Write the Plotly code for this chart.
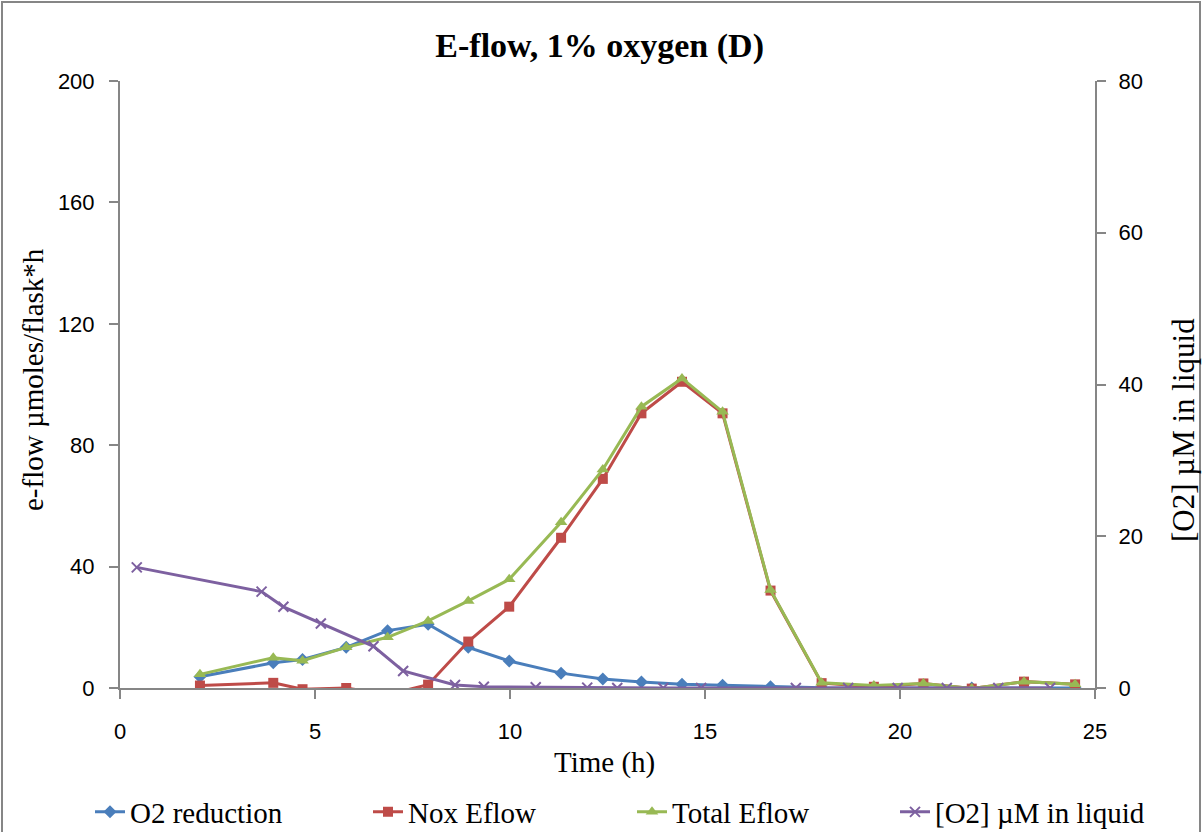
import plotly.graph_objects as go

# Time points (h)
t_main = [2.05, 3.93, 4.68, 5.8, 6.86, 7.9, 8.93, 9.98, 11.31, 12.38, 13.37, 14.41,
          15.45, 16.68, 17.99, 19.33, 20.6, 21.84, 23.18, 24.49]
o2_reduction = [3.7, 8.3, 9.4, 13.4, 18.9, 21.0, 13.4, 8.9, 4.9, 3.0, 2.0, 1.2,
                0.9, 0.4, 0.05, 0.0, 0.0, 0.0, 0.0, 0.0]
nox_eflow = [0.8, 1.7, -0.4, 0.0, -2.2, 1.1, 15.3, 26.8, 49.5, 68.9, 90.5, 100.9,
             90.5, 32.1, 1.6, 0.4, 1.5, -0.2, 2.1, 1.2]
total_eflow = [4.5, 10.0, 9.0, 13.4, 16.7, 22.1, 28.7, 35.8, 54.6, 72.0, 92.7, 102.0,
               91.0, 32.3, 1.7, 0.8, 1.5, -0.2, 2.1, 1.2]

t_o2 = [0.43, 3.63, 4.19, 5.15, 6.5, 7.26, 8.59, 9.33, 10.66, 11.98, 12.75, 13.93,
        14.9, 17.33, 18.67, 19.94, 21.2, 22.52, 23.85]
o2_liquid = [15.9, 12.7, 10.7, 8.5, 5.5, 2.24, 0.4, 0.17, 0.1, 0.05, 0.0, 0.0,
             0.0, 0.0, 0.0, 0.0, 0.0, 0.0, 0.0]

blue = "#4A7EBB"
red = "#BE4B48"
green = "#98B954"
purple = "#7D60A0"
axis_col = "#868686"
serif = "Liberation Serif, Times New Roman, serif"
sans = "Liberation Sans, Arial, sans-serif"

# plot area in pixels: x 120..1095, y 81..688
PL, PR, PT, PB = 120, 1095, 81, 688
def px(xp):
    return (xp - PL) / (PR - PL)
def py(yp):
    return (PB - yp) / (PB - PT)

fig = go.Figure()
fig.add_trace(go.Scatter(x=t_main, y=o2_reduction, name="O2 reduction", mode="lines+markers",
                         legend="legend",
                         line=dict(color=blue, width=3),
                         marker=dict(symbol="diamond", size=10, color=blue)))
fig.add_trace(go.Scatter(x=t_main, y=nox_eflow, name="Nox Eflow", mode="lines+markers",
                         legend="legend2",
                         line=dict(color=red, width=3),
                         marker=dict(symbol="square", size=10, color=red)))
fig.add_trace(go.Scatter(x=t_main, y=total_eflow, name="Total Eflow", mode="lines+markers",
                         legend="legend3",
                         line=dict(color=green, width=3),
                         marker=dict(symbol="triangle-up", size=11, color=green)))
fig.add_trace(go.Scatter(x=t_o2, y=o2_liquid, name="[O2] µM in liquid", mode="lines+markers",
                         yaxis="y2", legend="legend4",
                         line=dict(color=purple, width=3),
                         marker=dict(symbol="x-thin", size=10, color=purple,
                                     line=dict(color=purple, width=2))))

legend_font = dict(family=serif, size=29, color="black")
def leg(xpix):
    return dict(orientation="h", x=px(xpix), xanchor="left", y=py(812), yanchor="middle",
                font=legend_font, bgcolor="rgba(0,0,0,0)", borderwidth=0)

fig.update_layout(
    width=1203, height=832,
    margin=dict(l=PL, r=1203 - PR, t=PT, b=832 - PB, autoexpand=False),
    paper_bgcolor="white", plot_bgcolor="white",
    showlegend=True,
    title=dict(text="<b>E-flow, 1% oxygen (D)</b>", x=px(606), xanchor="center",
               y=1 - 45 / 832, yanchor="middle",
               font=dict(family=serif, size=34, color="black")),
    xaxis=dict(range=[0, 25], tickvals=[0, 5, 10, 15, 20, 25], showgrid=False, zeroline=False,
               showline=True, linecolor=axis_col, linewidth=2,
               ticks="outside", ticklen=9, tickwidth=2, tickcolor=axis_col,
               ticklabelstandoff=14,
               tickfont=dict(family=sans, size=22, color="black")),
    yaxis=dict(range=[0, 200], tickvals=[0, 40, 80, 120, 160, 200], showgrid=False, zeroline=False,
               showline=True, linecolor=axis_col, linewidth=2,
               ticks="outside", ticklen=9, tickwidth=2, tickcolor=axis_col,
               ticklabelstandoff=10,
               tickfont=dict(family=sans, size=22, color="black")),
    yaxis2=dict(range=[0, 80], tickvals=[0, 20, 40, 60, 80], overlaying="y", side="right",
                showgrid=False, zeroline=False,
                showline=True, linecolor=axis_col, linewidth=2,
                ticks="outside", ticklen=9, tickwidth=2, tickcolor=axis_col,
                ticklabelstandoff=8,
                tickfont=dict(family=sans, size=22, color="black")),
    legend=leg(90),
    legend2=leg(368),
    legend3=leg(632),
    legend4=leg(895),
    annotations=[
        dict(text="Time (h)", xref="paper", yref="paper", x=px(604), y=py(762),
             xanchor="center", yanchor="middle", showarrow=False,
             font=dict(family=serif, size=29, color="black")),
        dict(text="e-flow µmoles/flask*h", xref="paper", yref="paper", x=px(33), y=py(380),
             xanchor="center", yanchor="middle", showarrow=False, textangle=-90,
             font=dict(family=serif, size=29, color="black")),
        dict(text="[O2] µM in liquid", xref="paper", yref="paper", x=px(1184), y=py(430),
             xanchor="center", yanchor="middle", showarrow=False, textangle=-90,
             font=dict(family=serif, size=31, color="black")),
    ],
    shapes=[dict(type="rect", xref="paper", yref="paper",
                 x0=px(2), x1=px(1200), y0=py(850), y1=py(2),
                 line=dict(color=axis_col, width=2), fillcolor="rgba(0,0,0,0)", layer="below")],
)

fig.write_html("out.html")
